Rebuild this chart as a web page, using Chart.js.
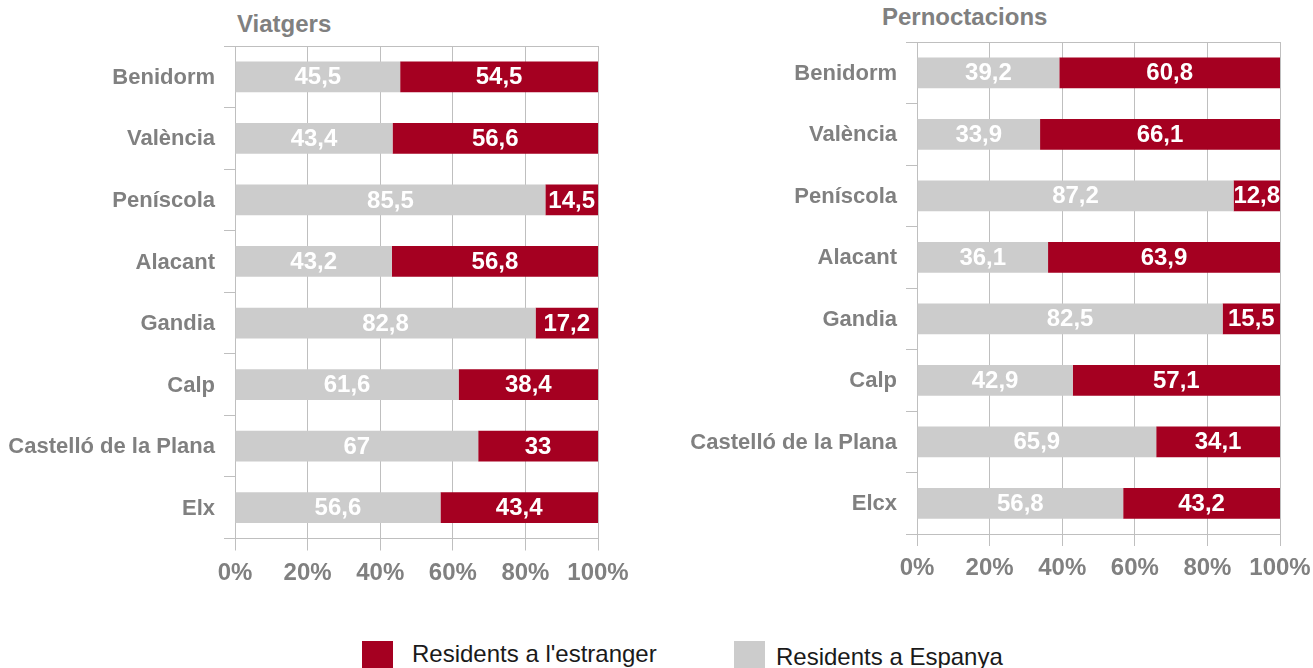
<!DOCTYPE html>
<html><head><meta charset="utf-8">
<script src="https://cdn.jsdelivr.net/npm/chart.js@4/dist/chart.umd.min.js"></script>
<style>
html,body{margin:0;padding:0;width:1313px;height:668px;overflow:hidden;background:#fff;font-family:"Liberation Sans",Arial,sans-serif;}
canvas{position:absolute;top:0;}
#cl{left:0;}
#cr{left:650px;}
.title{position:absolute;font-weight:bold;font-size:24px;line-height:24px;color:#808080;white-space:nowrap;}
.leg{position:absolute;font-size:24px;line-height:24px;color:#1a1a1a;white-space:nowrap;}
.sw{position:absolute;width:31px;height:27px;}
</style></head><body>
<div class="title" style="left:237px;top:12px;">Viatgers</div>
<div class="title" style="left:882px;top:5px;">Pernoctacions</div>
<canvas id="cl" width="643" height="600"></canvas>
<canvas id="cr" width="680" height="600"></canvas>
<div class="sw" style="left:362px;top:641px;background:#A50021;"></div>
<div class="leg" style="left:412px;top:642px;">Residents a l'estranger</div>
<div class="sw" style="left:734px;top:641px;background:#CCCCCC;"></div>
<div class="leg" style="left:776px;top:645px;">Residents a Espanya</div>
<script>
const categoriesViatgers = ['Benidorm','València','Peníscola','Alacant','Gandia','Calp','Castelló de la Plana','Elx'];
const espanyaViatgers = [45.5, 43.4, 85.5, 43.2, 82.8, 61.6, 67, 56.6];
const estrangerViatgers = [54.5, 56.6, 14.5, 56.8, 17.2, 38.4, 33, 43.4];

const categoriesPernoctacions = ['Benidorm','València','Peníscola','Alacant','Gandia','Calp','Castelló de la Plana','Elcx'];
const espanyaPernoctacions = [39.2, 33.9, 87.2, 36.1, 82.5, 42.9, 65.9, 56.8];
const estrangerPernoctacions = [60.8, 66.1, 12.8, 63.9, 15.5, 57.1, 34.1, 43.2];

const xTickLabels = ['0%','20%','40%','60%','80%','100%'];

const RED = '#A50021';
const GRAY = '#CCCCCC';
const GRID = '#BFBFBF';
const TXT = '#808080';
const FONT = '"Liberation Sans", Arial, sans-serif';

function share(a, b) { return a.map((v, i) => v / (v + b[i]) * 100); }

const valueLabels = {
  id: 'valueLabels',
  afterDatasetsDraw(chart) {
    const ctx = chart.ctx;
    ctx.save();
    ctx.font = 'bold 24px ' + FONT;
    ctx.fillStyle = '#FFFFFF';
    ctx.textAlign = 'center';
    ctx.textBaseline = 'middle';
    chart.data.datasets.forEach((ds, di) => {
      const meta = chart.getDatasetMeta(di);
      meta.data.forEach((bar, i) => {
        const p = bar.getProps(['x', 'y', 'base'], true);
        const txt = String(ds.rawValues[i]).replace('.', ',');
        ctx.fillText(txt, (p.x + p.base) / 2, p.y + 1);
      });
    });
    ctx.restore();
  }
};

function makeChart(id, cats, esp, est, cfg) {
  return new Chart(document.getElementById(id), {
    type: 'bar',
    data: {
      labels: cats,
      datasets: [
        { label: 'Residents a Espanya', data: share(esp, est), rawValues: esp, backgroundColor: GRAY, borderWidth: 0, barPercentage: 0.5, categoryPercentage: 1.0 },
        { label: "Residents a l'estranger", data: share(est, esp), rawValues: est, backgroundColor: RED, borderWidth: 0, barPercentage: 0.5, categoryPercentage: 1.0 }
      ]
    },
    options: {
      indexAxis: 'y',
      responsive: false,
      animation: false,
      layout: { padding: { top: cfg.top, right: cfg.right, bottom: 0, left: 0 } },
      plugins: { legend: { display: false }, tooltip: { enabled: false }, title: { display: false } },
      scales: {
        x: {
          stacked: true, min: 0, max: 100,
          afterFit: s => { s.height = cfg.xh; },
          grid: { color: GRID, lineWidth: 1, tickLength: 12, drawOnChartArea: true },
          border: { display: true, color: GRID, width: 1 },
          ticks: { stepSize: 20, padding: 8, color: TXT, font: { family: FONT, size: 24, weight: 'bold' }, maxRotation: 0,
                   callback: (v, i) => xTickLabels[i] }
        },
        y: {
          stacked: true, offset: true,
          afterFit: s => { s.width = cfg.yw; },
          grid: { offset: true, drawOnChartArea: true, lineWidth: 1, tickLength: 11, tickColor: GRID,
                  color: c => (c.index === 0 ? GRID : 'rgba(0,0,0,0)') },
          border: { display: true, color: GRID, width: 1 },
          ticks: { padding: 9, labelOffset: 1, color: TXT, font: { family: FONT, size: 22, weight: 'bold' } }
        }
      }
    },
    plugins: [valueLabels]
  });
}

makeChart('cl', categoriesViatgers, espanyaViatgers, estrangerViatgers, { top: 46, right: 45, xh: 61.5, yw: 235 });
makeChart('cr', categoriesPernoctacions, espanyaPernoctacions, estrangerPernoctacions, { top: 42, right: 50, xh: 66, yw: 267 });
</script>
</body></html>
